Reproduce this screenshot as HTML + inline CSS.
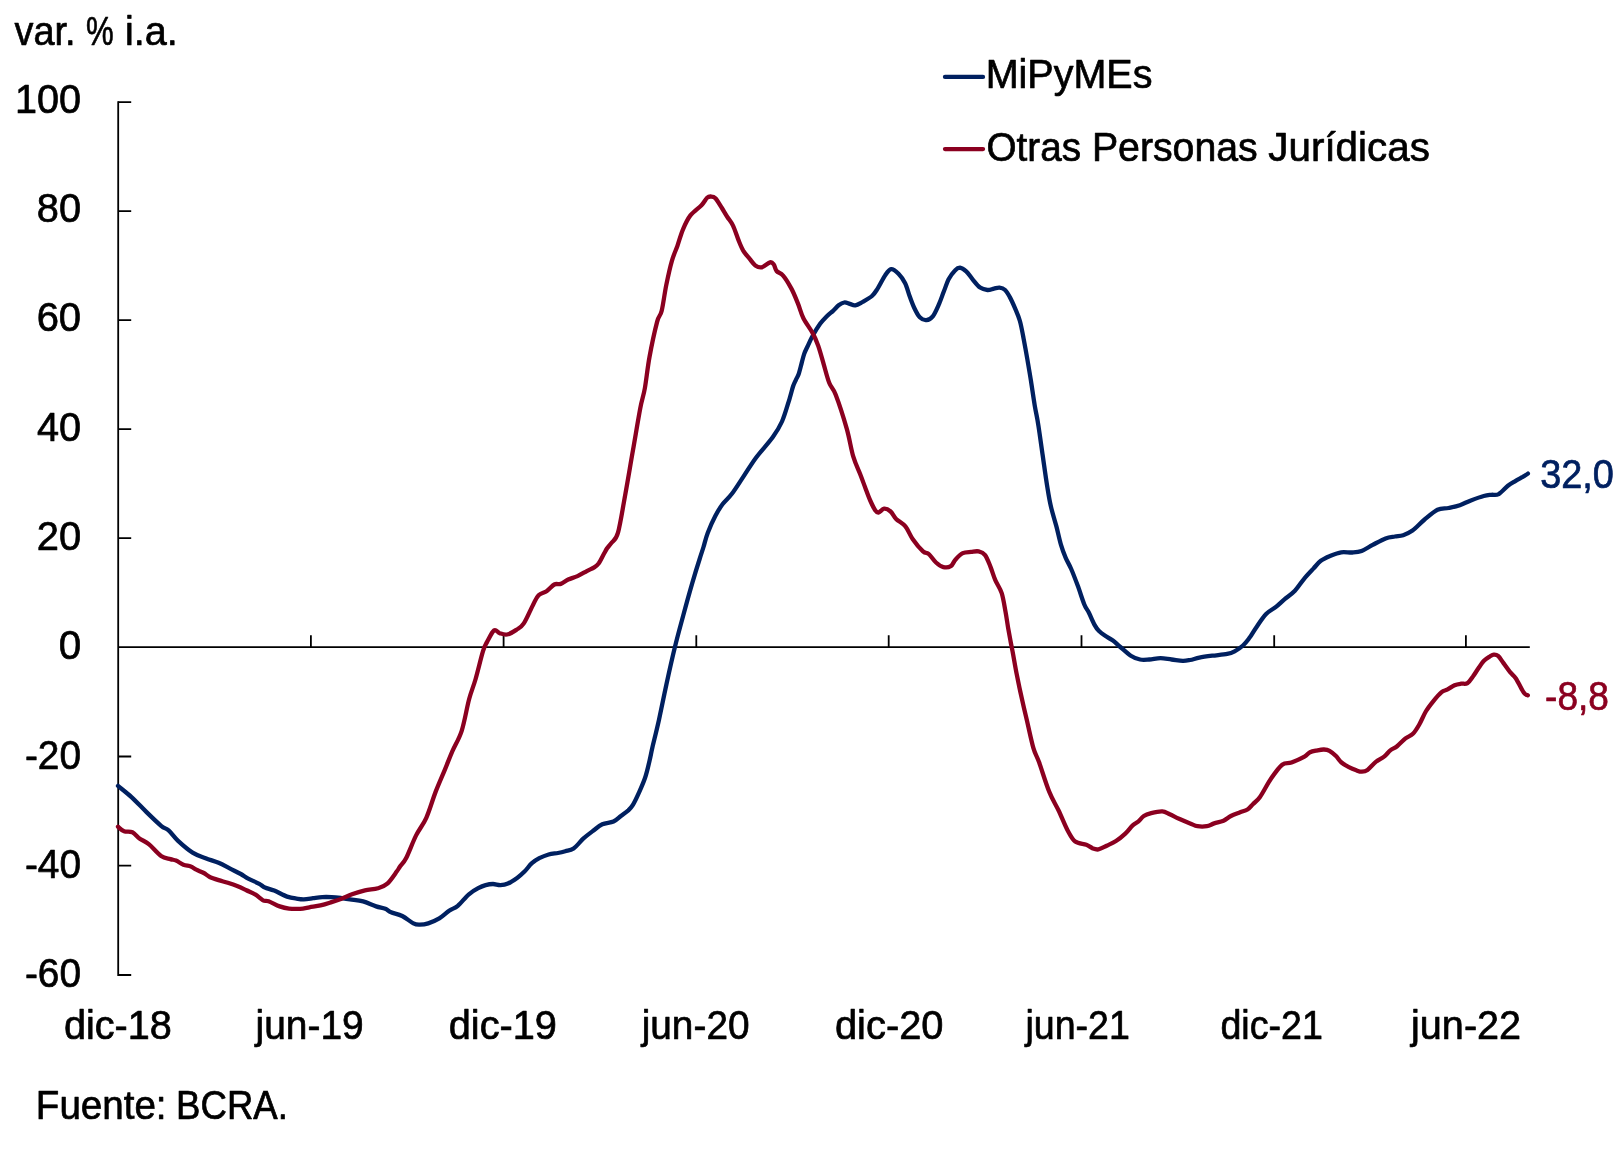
<!DOCTYPE html>
<html><head><meta charset="utf-8">
<style>
html,body{margin:0;padding:0;background:#fff;}
body{width:1620px;height:1155px;overflow:hidden;font-family:"Liberation Sans",sans-serif;}
svg{display:block;will-change:transform;}
text{font-family:"Liberation Sans",sans-serif;font-size:40px;fill:#000;stroke:#000;stroke-width:0.7px;stroke-linejoin:round;}
.ax{stroke:#000;stroke-width:1.8;fill:none;}
.ln{fill:none;stroke-width:4.3;stroke-linejoin:round;stroke-linecap:round;}
</style></head><body>
<svg width="1620" height="1155" viewBox="0 0 1620 1155">
<defs><mask id="tm" maskUnits="userSpaceOnUse" x="0" y="0" width="1620" height="1155"><rect width="1620" height="1155" fill="#fff"/></mask></defs>
<rect width="1620" height="1155" fill="#fff"/>
<g class="ax">
<path d="M118.2 101.2V975.9"/>
<path d="M118.2 647.2H1529.8"/>
<path d="M118.2 102.1H131.2 M118.2 211.1H131.2 M118.2 320.2H131.2 M118.2 429.2H131.2 M118.2 538.2H131.2 M118.2 756.5H131.2 M118.2 865.7H131.2 M118.2 975.0H131.2"/>
<path d="M310.9 647.2V635.3 M503.6 647.2V635.3 M696.3 647.2V635.3 M888.7 647.2V635.3 M1081.5 647.2V635.3 M1274.2 647.2V635.3 M1465.9 647.2V635.3"/>
</g>
<path class="ln" stroke="#002060" d="M945 76.9H983"/>
<path class="ln" stroke="#8b0020" d="M945 149.1H983"/>
<path class="ln" stroke="#002060" d="M118.0 785.9C120.2 787.8 126.8 792.8 131.5 797.1C136.2 801.4 141.4 807.1 146.3 811.9C151.2 816.7 157.4 822.7 161.1 825.8C164.8 828.9 165.8 827.9 168.6 830.4C171.4 832.9 173.8 836.9 177.8 840.6C181.8 844.3 188.0 849.7 192.6 852.6C197.2 855.5 201.3 856.5 205.6 858.2C209.9 859.9 214.6 861.1 218.6 862.8C222.6 864.5 226.0 866.5 229.7 868.4C233.4 870.3 237.7 872.3 240.8 874.0C243.9 875.7 245.1 877.0 248.2 878.6C251.3 880.2 256.5 882.3 259.3 883.8C262.1 885.3 262.4 886.4 264.9 887.5C267.4 888.6 270.5 889.1 274.2 890.6C277.9 892.1 283.4 895.3 287.1 896.6C290.8 897.9 293.6 898.2 296.4 898.6C299.2 899.0 301.0 899.4 303.8 899.3C306.6 899.2 310.0 898.6 313.1 898.2C316.2 897.8 319.2 897.3 322.3 897.1C325.4 896.9 328.5 897.0 331.6 897.1C334.7 897.2 337.8 897.6 340.9 898.0C344.0 898.4 346.4 898.7 350.1 899.3C353.8 899.9 358.8 900.2 363.1 901.4C367.4 902.6 372.4 905.2 376.1 906.4C379.8 907.6 382.8 907.8 385.3 908.8C387.8 909.8 388.3 911.1 391.1 912.3C393.9 913.5 398.5 914.1 402.2 916.0C405.9 917.9 410.5 921.9 413.4 923.4C416.3 924.9 417.3 924.7 419.8 924.7C422.3 924.7 424.9 924.5 428.2 923.4C431.4 922.3 435.8 920.5 439.3 918.4C442.9 916.2 446.4 912.6 449.5 910.5C452.6 908.4 454.6 908.5 457.8 905.8C461.0 903.1 465.5 897.2 468.9 894.3C472.3 891.4 475.4 889.7 478.2 888.2C481.0 886.7 483.1 885.8 485.6 885.1C488.1 884.4 490.5 884.0 493.0 884.0C495.5 884.0 497.9 885.2 500.4 885.1C502.9 885.0 505.1 884.8 507.9 883.6C510.7 882.4 514.3 880.0 517.1 878.0C519.9 876.0 522.0 874.1 524.5 871.6C527.0 869.1 529.4 865.4 531.9 863.2C534.4 861.0 536.5 859.7 539.3 858.2C542.1 856.8 545.5 855.4 548.6 854.5C551.7 853.6 555.1 853.5 557.9 853.0C560.7 852.5 562.7 852.0 565.3 851.2C567.9 850.4 570.5 850.6 573.6 848.4C576.7 846.2 580.5 841.1 583.8 838.2C587.0 835.3 590.0 833.1 593.1 830.8C596.2 828.5 598.9 825.8 602.3 824.3C605.7 822.8 610.4 822.9 613.5 821.5C616.6 820.1 618.4 817.9 620.9 816.0C623.4 814.1 626.3 812.2 628.3 810.4C630.3 808.5 631.2 807.7 632.9 804.9C634.6 802.1 636.5 798.2 638.5 793.7C640.5 789.2 643.1 783.5 645.0 778.0C646.9 772.5 648.4 765.6 649.6 760.4C650.9 755.2 650.9 753.8 652.5 747.0C654.1 740.2 656.7 730.1 659.0 719.7C661.3 709.3 663.8 696.5 666.4 684.5C669.0 672.5 672.0 658.9 674.8 647.5C677.6 636.1 680.2 626.8 683.1 616.0C686.0 605.2 689.6 592.2 692.4 582.6C695.2 573.0 697.9 564.4 699.8 558.5C701.6 552.6 702.2 551.3 703.5 547.0C704.8 542.7 705.8 537.9 707.8 532.7C709.8 527.5 712.8 520.8 715.3 516.0C717.8 511.2 719.9 507.7 722.7 504.0C725.5 500.3 728.5 498.3 731.9 493.8C735.3 489.3 739.1 483.1 743.1 477.1C747.1 471.1 751.1 464.3 756.0 457.7C760.9 451.1 768.4 443.3 772.7 437.3C777.0 431.3 779.2 427.8 782.0 421.5C784.8 415.2 787.5 405.2 789.4 399.3C791.2 393.4 792.0 389.6 793.1 386.3C794.2 383.1 795.0 381.8 795.9 379.8C796.8 377.8 797.7 376.9 798.6 374.3C799.5 371.7 800.5 367.5 801.4 364.1C802.3 360.7 803.2 356.8 804.2 353.9C805.2 351.0 806.1 349.5 807.5 346.5C808.9 343.5 810.6 339.6 812.7 335.8C814.8 332.0 817.8 327.0 820.1 323.8C822.4 320.6 824.4 318.6 826.6 316.4C828.8 314.2 831.1 312.6 833.1 310.8C835.1 309.0 836.8 306.7 838.6 305.3C840.5 303.9 842.3 302.8 844.2 302.5C846.1 302.2 847.9 303.3 849.8 303.8C851.6 304.3 853.1 305.6 855.3 305.3C857.4 305.0 859.9 303.4 862.7 301.9C865.5 300.3 869.5 298.2 872.0 296.0C874.5 293.8 875.4 292.0 877.6 288.6C879.8 285.2 882.8 278.9 885.0 275.6C887.2 272.4 888.9 269.4 891.1 269.1C893.4 268.8 896.2 271.4 898.5 273.7C900.8 276.0 903.1 279.3 905.0 283.0C906.9 286.7 908.1 291.8 909.6 296.0C911.1 300.2 912.6 304.4 914.3 308.0C916.0 311.6 917.8 315.3 919.8 317.3C921.8 319.3 924.1 320.3 926.3 320.1C928.5 319.9 930.6 319.1 932.8 316.3C935.0 313.5 937.4 307.6 939.3 303.4C941.1 299.2 942.3 295.3 943.9 291.3C945.5 287.3 946.8 282.8 948.6 279.3C950.5 275.8 953.1 272.3 955.0 270.4C956.9 268.4 958.1 267.5 960.0 267.6C961.9 267.8 964.1 269.4 966.2 271.3C968.3 273.2 970.3 276.6 972.6 279.3C974.9 282.0 977.6 285.8 980.1 287.6C982.6 289.4 985.2 289.8 987.5 290.0C989.8 290.2 992.0 289.0 994.0 288.6C996.0 288.2 997.6 287.4 999.5 287.6C1001.4 287.8 1003.4 288.4 1005.1 290.0C1006.8 291.6 1008.0 293.8 1009.7 296.9C1011.4 300.0 1013.6 304.9 1015.3 308.9C1017.0 312.9 1018.5 316.1 1019.9 321.0C1021.3 325.9 1022.4 332.3 1023.6 338.6C1024.8 344.9 1026.1 351.9 1027.3 359.0C1028.5 366.1 1029.8 373.5 1031.0 381.2C1032.2 388.9 1033.6 398.8 1034.7 405.3C1035.8 411.8 1036.7 415.5 1037.5 420.1C1038.3 424.7 1038.7 427.3 1039.5 433.0C1040.3 438.7 1041.2 445.3 1042.5 454.1C1043.8 462.9 1045.7 477.0 1047.1 485.6C1048.5 494.2 1049.2 499.2 1050.8 506.0C1052.3 512.8 1054.7 519.9 1056.4 526.4C1058.1 532.9 1059.5 539.7 1061.0 544.9C1062.5 550.1 1064.0 553.8 1065.7 557.8C1067.4 561.8 1069.2 564.4 1071.2 569.0C1073.2 573.6 1075.5 579.7 1077.7 585.6C1079.9 591.5 1082.4 599.7 1084.2 604.2C1086.0 608.7 1087.1 609.1 1088.8 612.5C1090.5 615.9 1092.7 621.5 1094.4 624.6C1096.1 627.7 1097.0 629.0 1099.0 631.0C1101.0 633.0 1104.1 635.0 1106.4 636.6C1108.7 638.2 1110.7 638.9 1112.9 640.5C1115.1 642.1 1116.7 644.0 1119.7 646.5C1122.7 649.0 1127.4 653.5 1130.8 655.7C1134.2 657.9 1137.0 658.9 1140.1 659.5C1143.2 660.1 1145.9 659.7 1149.3 659.5C1152.7 659.3 1156.8 658.2 1160.5 658.2C1164.2 658.2 1167.9 659.1 1171.6 659.5C1175.3 659.9 1179.6 660.7 1182.7 660.8C1185.8 660.9 1187.3 660.5 1190.1 660.0C1192.9 659.5 1195.7 658.3 1199.4 657.6C1203.1 656.9 1207.7 656.3 1212.3 655.7C1216.9 655.1 1223.5 654.6 1227.2 653.9C1230.9 653.2 1232.0 652.7 1234.6 651.3C1237.2 649.9 1240.5 647.8 1243.0 645.5C1245.5 643.2 1247.3 640.7 1249.5 637.8C1251.7 634.9 1253.1 631.9 1255.9 627.9C1258.7 623.9 1262.7 617.5 1266.1 614.0C1269.5 610.5 1273.2 609.1 1276.3 606.6C1279.4 604.1 1281.6 601.8 1284.7 599.2C1287.8 596.6 1291.7 594.2 1294.9 590.8C1298.1 587.4 1301.0 582.5 1304.1 578.8C1307.2 575.1 1310.6 571.6 1313.4 568.6C1316.2 565.6 1318.0 562.9 1320.8 560.8C1323.6 558.7 1326.7 557.4 1330.1 556.0C1333.5 554.6 1337.5 552.9 1341.2 552.3C1344.9 551.7 1348.9 552.7 1352.3 552.5C1355.7 552.3 1358.2 552.3 1361.6 551.0C1365.0 549.7 1368.7 547.0 1372.7 544.9C1376.7 542.8 1381.9 539.8 1385.6 538.4C1389.3 537.0 1392.0 537.0 1394.9 536.5C1397.8 536.0 1400.3 536.2 1403.2 535.2C1406.1 534.2 1408.9 533.2 1412.5 530.6C1416.1 528.0 1420.4 523.0 1424.6 519.5C1428.8 516.0 1433.5 511.7 1437.5 509.8C1441.5 507.9 1444.9 508.8 1448.6 508.0C1452.3 507.2 1456.1 506.5 1459.8 505.2C1463.5 503.9 1466.9 501.9 1470.9 500.4C1474.9 498.9 1480.4 496.9 1483.8 496.0C1487.2 495.1 1488.8 495.1 1491.3 494.8C1493.8 494.5 1495.9 495.6 1498.7 494.1C1501.5 492.6 1505.1 488.0 1507.9 485.8C1510.7 483.6 1512.8 482.6 1515.3 481.1C1517.8 479.6 1520.7 478.1 1522.8 476.9C1524.9 475.6 1527.1 474.2 1527.9 473.6"/>
<path class="ln" stroke="#8b0020" d="M118.0 826.7C119.0 827.5 121.7 830.4 124.1 831.3C126.5 832.2 129.8 831.1 132.4 832.3C135.0 833.5 137.0 836.7 139.8 838.7C142.6 840.7 145.6 841.4 149.1 844.3C152.6 847.2 157.5 853.5 161.1 856.0C164.7 858.5 167.9 858.3 170.4 859.1C172.9 859.9 173.8 859.7 176.0 860.6C178.2 861.5 180.9 863.7 183.4 864.7C185.9 865.7 188.7 865.7 190.8 866.5C193.0 867.3 194.1 868.6 196.3 869.7C198.5 870.8 201.6 871.8 203.8 873.0C206.0 874.2 206.8 875.5 209.3 876.7C211.8 877.9 215.5 879.1 218.6 880.1C221.7 881.1 224.7 881.8 227.8 882.8C230.9 883.8 234.0 884.8 237.1 886.0C240.2 887.2 243.3 888.8 246.4 890.3C249.5 891.8 252.8 893.0 255.6 894.7C258.4 896.4 260.8 899.2 263.0 900.3C265.2 901.4 265.8 900.2 268.6 901.2C271.4 902.2 276.3 905.2 279.7 906.4C283.1 907.6 285.6 908.2 289.0 908.6C292.4 909.0 296.7 909.0 300.1 908.8C303.5 908.6 306.0 907.9 309.4 907.3C312.8 906.7 317.1 906.2 320.5 905.4C323.9 904.6 326.4 903.8 329.8 902.7C333.2 901.6 337.2 900.4 340.9 899.0C344.6 897.6 348.0 895.8 352.0 894.3C356.0 892.8 360.7 891.3 365.0 890.3C369.3 889.3 374.2 889.3 377.9 888.2C381.6 887.1 384.2 886.5 387.3 883.7C390.4 880.9 394.6 874.5 396.7 871.6C398.8 868.7 398.5 868.7 400.0 866.5C401.5 864.3 403.2 863.8 405.9 858.6C408.6 853.4 412.7 842.2 416.1 835.4C419.5 828.6 423.1 825.0 426.3 817.8C429.6 810.5 432.5 799.9 435.6 791.9C438.7 783.9 442.1 776.4 444.9 769.6C447.7 762.8 449.6 757.7 452.4 751.2C455.2 744.7 458.9 739.4 461.7 730.8C464.5 722.1 466.8 707.9 469.1 699.3C471.4 690.7 473.3 687.0 475.6 679.0C477.9 671.0 481.1 657.4 483.0 651.2C484.9 645.0 485.2 645.4 487.1 641.9C489.0 638.4 492.0 631.8 494.1 630.4C496.2 629.0 497.5 632.5 499.7 633.2C501.9 633.9 504.3 635.0 507.1 634.5C509.9 634.0 513.5 631.8 516.3 629.9C519.1 628.0 521.0 627.6 523.8 623.4C526.6 619.2 530.5 609.6 533.0 604.9C535.5 600.2 536.3 597.5 538.6 595.2C540.9 592.9 544.3 592.8 546.9 591.0C549.5 589.2 552.0 585.7 554.3 584.5C556.6 583.3 558.5 584.7 560.8 583.9C563.1 583.1 565.4 580.8 568.2 579.5C571.0 578.2 574.4 577.5 577.5 576.1C580.6 574.7 584.0 572.6 586.8 571.1C589.6 569.6 592.2 568.7 594.2 567.4C596.2 566.1 597.1 565.5 598.8 563.2C600.4 560.9 602.7 556.0 604.1 553.5C605.5 551.0 605.9 550.1 607.1 548.3C608.3 546.5 609.7 545.5 611.5 542.9C613.3 540.3 615.7 540.9 618.0 532.7C620.3 524.5 622.9 507.4 625.4 493.8C627.9 480.2 630.3 465.4 632.8 451.2C635.3 437.0 638.2 419.1 640.2 408.6C642.2 398.1 643.4 396.6 644.9 388.0C646.4 379.4 647.5 368.0 649.5 357.0C651.5 346.0 655.1 329.6 657.1 321.9C659.1 314.2 660.2 317.0 661.7 310.8C663.2 304.6 664.6 293.2 666.3 284.9C668.0 276.6 670.0 267.3 671.9 260.8C673.8 254.3 675.5 251.2 677.4 246.0C679.2 240.8 680.8 234.4 683.0 229.3C685.2 224.2 687.3 219.4 690.4 215.4C693.5 211.4 698.7 208.1 701.5 205.2C704.3 202.3 705.6 199.2 707.1 197.8C708.6 196.4 709.4 196.4 710.8 196.5C712.2 196.6 713.5 196.3 715.4 198.2C717.2 200.1 719.9 204.8 721.9 208.0C723.9 211.2 725.6 214.3 727.5 217.2C729.4 220.1 731.1 221.7 733.0 225.6C734.9 229.5 736.9 236.2 738.6 240.4C740.3 244.6 741.4 247.5 743.2 250.6C745.1 253.7 747.7 256.4 749.7 258.9C751.7 261.4 753.3 264.0 755.3 265.4C757.3 266.8 759.2 267.8 761.7 267.3C764.2 266.8 768.1 262.8 770.1 262.3C772.1 261.8 772.7 263.1 773.8 264.5C774.9 265.9 775.0 269.1 776.6 271.0C778.2 272.9 780.6 272.7 783.1 275.6C785.6 278.5 788.9 284.0 791.4 288.6C793.9 293.2 795.9 298.5 797.9 303.4C799.9 308.3 800.9 313.2 803.4 318.2C805.9 323.1 810.2 328.5 812.7 333.1C815.2 337.7 816.4 340.8 818.3 346.0C820.1 351.2 822.0 358.4 823.8 364.6C825.6 370.8 827.3 378.0 829.3 383.0C831.3 388.0 832.8 387.1 835.7 394.7C838.6 402.3 843.9 418.6 846.8 428.9C849.7 439.2 851.0 449.0 853.3 456.7C855.6 464.4 858.5 469.9 860.5 475.0C862.5 480.1 863.4 482.8 865.0 487.0C866.6 491.2 868.3 496.2 870.0 500.0C871.7 503.8 873.6 507.9 875.0 510.0C876.4 512.1 877.0 512.7 878.5 512.5C880.0 512.3 882.1 508.9 884.1 508.7C886.1 508.5 888.6 509.8 890.6 511.5C892.6 513.2 893.6 516.4 896.1 518.9C898.6 521.4 902.6 523.0 905.4 526.4C908.2 529.8 909.9 535.1 912.8 539.3C915.7 543.5 920.4 549.0 923.0 551.4C925.6 553.8 926.4 551.9 928.6 553.8C930.8 555.6 933.5 560.3 936.0 562.5C938.5 564.7 940.9 566.5 943.4 567.1C945.9 567.7 948.8 567.4 950.8 566.2C952.8 565.0 953.4 561.9 955.4 559.7C957.4 557.5 960.2 554.5 962.8 553.2C965.4 551.9 968.6 552.2 971.2 551.9C973.8 551.6 976.3 550.9 978.6 551.4C980.9 551.9 983.1 552.5 985.1 555.1C987.1 557.7 988.9 562.9 990.6 567.1C992.3 571.3 993.4 575.8 995.3 580.1C997.1 584.4 1000.0 587.9 1001.7 593.1C1003.4 598.4 1004.4 605.7 1005.5 611.6C1006.6 617.5 1007.3 623.2 1008.2 628.3C1009.1 633.4 1009.9 637.6 1010.7 642.0C1011.5 646.4 1012.2 649.3 1013.2 654.8C1014.2 660.3 1015.4 667.5 1016.9 675.2C1018.4 682.9 1020.5 692.8 1022.4 701.1C1024.2 709.4 1026.2 717.3 1028.0 725.2C1029.8 733.1 1031.7 742.2 1033.5 748.4C1035.3 754.6 1036.5 755.0 1039.1 762.3C1041.7 769.5 1046.0 783.9 1049.3 791.9C1052.5 799.9 1055.5 804.0 1058.6 810.5C1061.7 817.0 1065.0 825.6 1067.8 830.8C1070.6 836.0 1072.1 839.3 1075.2 841.6C1078.3 843.9 1083.4 843.6 1086.3 844.7C1089.2 845.8 1090.8 847.6 1092.8 848.4C1094.8 849.2 1096.1 849.8 1098.4 849.4C1100.7 849.0 1103.8 847.1 1106.7 845.7C1109.6 844.3 1112.9 843.0 1116.0 841.0C1119.1 839.0 1122.5 836.2 1125.3 833.6C1128.1 831.0 1130.5 827.3 1132.7 825.3C1134.9 823.3 1136.4 823.1 1138.2 821.6C1140.0 820.1 1141.6 817.4 1143.8 816.0C1146.0 814.6 1148.1 814.0 1151.2 813.2C1154.3 812.4 1159.2 811.2 1162.3 811.4C1165.4 811.6 1166.9 813.0 1169.7 814.2C1172.5 815.4 1175.6 817.3 1179.0 818.8C1182.4 820.3 1187.0 822.2 1190.1 823.4C1193.2 824.6 1194.7 825.7 1197.5 826.2C1200.3 826.7 1204.0 826.7 1206.8 826.2C1209.6 825.7 1211.4 824.3 1214.2 823.4C1217.0 822.5 1220.7 821.9 1223.5 820.7C1226.3 819.5 1228.1 817.4 1230.9 816.0C1233.7 814.6 1237.3 813.4 1240.1 812.3C1242.9 811.2 1245.3 810.9 1247.5 809.5C1249.7 808.1 1251.0 806.1 1253.1 804.0C1255.2 801.9 1257.0 801.2 1260.0 797.0C1263.0 792.8 1267.4 783.9 1271.1 778.5C1274.8 773.1 1278.8 767.4 1282.2 764.7C1285.6 762.0 1287.8 763.9 1291.5 762.5C1295.2 761.1 1301.4 758.3 1304.5 756.6C1307.6 754.9 1307.8 753.3 1310.0 752.3C1312.2 751.3 1315.1 750.9 1317.4 750.4C1319.7 749.9 1321.9 749.4 1323.9 749.5C1325.9 749.6 1327.5 749.7 1329.5 750.8C1331.5 751.9 1334.0 754.0 1336.0 756.0C1338.0 758.0 1339.3 760.6 1341.5 762.5C1343.7 764.4 1346.4 765.8 1348.9 767.1C1351.4 768.4 1354.1 769.5 1356.3 770.3C1358.5 771.1 1360.0 771.8 1361.9 771.7C1363.8 771.6 1365.2 771.5 1367.5 769.9C1369.8 768.3 1373.0 764.1 1375.8 761.9C1378.6 759.7 1381.6 758.6 1384.1 756.6C1386.6 754.6 1388.4 751.8 1390.6 750.1C1392.8 748.4 1394.6 748.2 1397.1 746.2C1399.6 744.2 1402.9 740.5 1405.5 738.4C1408.1 736.3 1410.6 736.1 1412.9 733.8C1415.2 731.5 1417.2 728.2 1419.3 724.5C1421.4 720.8 1423.5 715.4 1425.8 711.5C1428.1 707.6 1430.6 704.5 1433.2 701.3C1435.8 698.1 1439.3 694.0 1441.6 692.1C1443.9 690.2 1444.9 690.9 1447.1 689.7C1449.3 688.6 1452.3 686.2 1454.6 685.2C1456.9 684.2 1458.8 684.0 1461.0 683.7C1463.2 683.4 1465.5 684.4 1467.5 683.2C1469.5 682.0 1471.2 678.8 1473.1 676.3C1474.9 673.8 1476.8 670.6 1478.6 668.0C1480.4 665.4 1482.3 662.5 1484.2 660.6C1486.1 658.7 1488.2 657.5 1489.8 656.5C1491.4 655.5 1492.4 654.7 1493.8 654.6C1495.2 654.5 1496.4 654.4 1498.1 655.9C1499.8 657.4 1501.7 660.7 1503.7 663.4C1505.7 666.1 1508.1 669.7 1510.1 672.2C1512.1 674.7 1513.8 675.5 1515.7 678.2C1517.6 680.9 1519.8 685.8 1521.3 688.4C1522.8 691.0 1523.5 692.5 1524.6 693.6C1525.7 694.8 1527.3 695.0 1527.8 695.3"/>
<g opacity="0.999">
<text id="t_a" x="14.58" y="44.90" textLength="61.08" lengthAdjust="spacingAndGlyphs">var.</text>
<text id="t_b" x="86.01" y="44.90" textLength="27.64" lengthAdjust="spacingAndGlyphs">%</text>
<text id="t_c" x="125.04" y="44.90" textLength="52.81" lengthAdjust="spacingAndGlyphs">i.a.</text>
<text id="y100" x="15.07" y="112.80" textLength="66.09" lengthAdjust="spacingAndGlyphs" style="font-size:41px">100</text>
<text id="y80" x="36.87" y="222.10" textLength="44.22" lengthAdjust="spacingAndGlyphs" style="font-size:41px">80</text>
<text id="y60" x="36.63" y="331.40" textLength="44.48" lengthAdjust="spacingAndGlyphs" style="font-size:41px">60</text>
<text id="y40" x="36.97" y="440.70" textLength="44.15" lengthAdjust="spacingAndGlyphs" style="font-size:41px">40</text>
<text id="y20" x="36.72" y="549.90" textLength="44.41" lengthAdjust="spacingAndGlyphs" style="font-size:41px">20</text>
<text id="y0" x="58.67" y="659.20" textLength="22.48" lengthAdjust="spacingAndGlyphs" style="font-size:41px">0</text>
<text id="ym20" x="24.88" y="768.50" textLength="56.15" lengthAdjust="spacingAndGlyphs" style="font-size:41px">-20</text>
<text id="ym40" x="24.88" y="877.70" textLength="56.15" lengthAdjust="spacingAndGlyphs" style="font-size:41px">-40</text>
<text id="ym60" x="24.88" y="987.00" textLength="56.15" lengthAdjust="spacingAndGlyphs" style="font-size:41px">-60</text>
<text id="x0" x="63.88" y="1039.10" textLength="107.89" lengthAdjust="spacingAndGlyphs">dic-18</text>
<text id="x1" x="255.59" y="1039.10" textLength="108.15" lengthAdjust="spacingAndGlyphs">jun-19</text>
<text id="x2" x="448.78" y="1039.10" textLength="108.20" lengthAdjust="spacingAndGlyphs">dic-19</text>
<text id="x3" x="641.68" y="1039.10" textLength="107.88" lengthAdjust="spacingAndGlyphs">jun-20</text>
<text id="x4" x="834.98" y="1039.10" textLength="108.48" lengthAdjust="spacingAndGlyphs">dic-20</text>
<text id="x5" x="1025.42" y="1039.10" textLength="104.45" lengthAdjust="spacingAndGlyphs">jun-21</text>
<text id="x6" x="1220.40" y="1039.10" textLength="102.45" lengthAdjust="spacingAndGlyphs">dic-21</text>
<text id="x7" x="1411.00" y="1039.10" textLength="110.16" lengthAdjust="spacingAndGlyphs">jun-22</text>
<text id="src_a" x="35.83" y="1118.70" textLength="130.76" lengthAdjust="spacingAndGlyphs">Fuente:</text>
<text id="src_b" x="176.10" y="1118.70" textLength="111.75" lengthAdjust="spacingAndGlyphs">BCRA.</text>
<text id="lg1" x="985.70" y="87.80" textLength="166.71" lengthAdjust="spacingAndGlyphs">MiPyMEs</text>
<text id="lg2a" x="986.46" y="160.80" textLength="94.55" lengthAdjust="spacingAndGlyphs">Otras</text>
<text id="lg2b" x="1091.89" y="160.80" textLength="165.80" lengthAdjust="spacingAndGlyphs">Personas</text>
<text id="lg2c" x="1268.30" y="160.80" textLength="161.54" lengthAdjust="spacingAndGlyphs">Jurídicas</text>
<text id="d1" x="1540.20" y="487.80" textLength="73.76" lengthAdjust="spacingAndGlyphs" style="fill:#002060;stroke:#002060;font-size:41px">32,0</text>
<text id="d2" x="1545.10" y="710.10" textLength="63.85" lengthAdjust="spacingAndGlyphs" style="fill:#8b0020;stroke:#8b0020;font-size:41px">-8,8</text>
</g>
</svg>
</body></html>
